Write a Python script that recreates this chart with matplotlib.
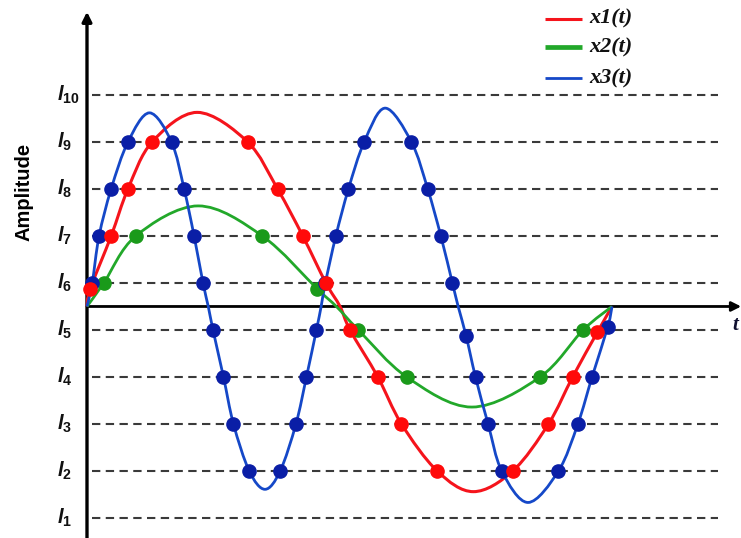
import numpy as np
import matplotlib.pyplot as plt
from matplotlib.path import Path
from matplotlib.patches import PathPatch

plt.rcParams['mathtext.fontset'] = 'custom'
plt.rcParams['mathtext.it'] = 'Liberation Sans:italic:bold'
plt.rcParams['mathtext.rm'] = 'Liberation Sans:bold'

# quantisation levels l1..l10
levels = [-4.5, -3.5, -2.5, -1.5, -0.5, 0.5, 1.5, 2.5, 3.5, 4.5]
level_names = ['1', '2', '3', '4', '5', '6', '7', '8', '9', '10']

# x1(t): points on the curve, mark = 1 where a sample dot sits
x1_t = [0, 0.06, 0.46, 0.78, 1.24, 2.10, 3.06, 3.63, 4.11, 4.55, 4.82, 5.01, 5.54, 5.99,
        6.67, 7.36, 8.11, 8.79, 9.25, 9.72, 10]
x1_y = [0, 0.37, 1.5, 2.5, 3.5, 4.13, 3.5, 2.5, 1.5, 0.5, 0, -0.5, -1.5, -2.5,
        -3.5, -3.94, -3.5, -2.5, -1.5, -0.55, 0]
x1_mark = [0, 1, 1, 1, 1, 0, 1, 1, 1, 1, 0, 1, 1, 1, 1, 0, 1, 1, 1, 1, 0]

# x2(t)
x2_t = [0, 0.32, 0.93, 2.12, 3.34, 4.39, 4.75, 5.17, 6.09, 7.33, 8.63, 9.45, 10]
x2_y = [0, 0.5, 1.5, 2.14, 1.5, 0.37, 0, -0.5, -1.5, -2.14, -1.5, -0.5, 0]
x2_mark = [0, 1, 1, 0, 1, 1, 0, 1, 1, 0, 1, 1, 0]

# x3(t)
x3_t = [0, 0.10, 0.23, 0.46, 0.78, 1.19, 1.61, 1.85, 2.04, 2.21, 2.31, 2.40, 2.60, 2.79,
        3.09, 3.39, 3.68, 3.98, 4.18, 4.37, 4.46, 4.54, 4.74, 4.98, 5.28, 5.68, 6.18,
        6.49, 6.74, 6.96, 7.07, 7.22, 7.40, 7.64, 7.90, 8.40, 8.98, 9.35, 9.62, 9.92, 10]
x3_y = [0, 0.5, 1.5, 2.5, 3.5, 4.12, 3.5, 2.5, 1.5, 0.5, 0, -0.5, -1.5, -2.5,
        -3.5, -3.89, -3.5, -2.5, -1.5, -0.5, 0, 0.5, 1.5, 2.5, 3.5, 4.22, 3.5,
        2.5, 1.5, 0.5, 0, -0.62, -1.5, -2.5, -3.5, -4.17, -3.5, -2.5, -1.5, -0.43, 0]
x3_mark = [0, 1, 1, 1, 1, 0, 1, 1, 1, 1, 0, 1, 1, 1,
           1, 0, 1, 1, 1, 1, 0, 1, 1, 1, 1, 0, 1,
           1, 1, 1, 0, 1, 1, 1, 1, 0, 1, 1, 1, 1, 0]

series = [
    ('x1(t)', x1_t, x1_y, x1_mark, '#f5141c', '#ff0a0a', 2.2, 2.2),
    ('x2(t)', x2_t, x2_y, x2_mark, '#22a82a', '#1a9a1a', 2.0, 3.4),
    ('x3(t)', x3_t, x3_y, x3_mark, '#1548c8', '#0a1ea6', 2.0, 2.0),
]


def smooth_path(t, y):
    # smoothed line through the points (Catmull-Rom as cubic Bezier)
    p = np.column_stack([t, y]).astype(float)
    p = np.vstack([p[:1], p, p[-1:]])
    verts = [p[1]]
    codes = [Path.MOVETO]
    for i in range(1, len(p) - 2):
        c1 = p[i] + (p[i + 1] - p[i - 1]) / 6
        c2 = p[i + 1] - (p[i + 2] - p[i]) / 6
        verts += [c1, c2, p[i + 1]]
        codes += [Path.CURVE4] * 3
    return Path(verts, codes)


fig = plt.figure(figsize=(7.41, 5.38), dpi=100)
ax = fig.add_axes([0, 0, 1, 1])
ax.set_xlim(-1.657, 12.457)
ax.set_ylim(-4.926, 6.521)
ax.axis('off')

# dashed level lines and their labels
for lv, name in zip(levels, level_names):
    ax.plot([0.1, 12.02], [lv, lv], color='#3a3a3a', lw=1.5, ls=(0, (4, 2.6)), zorder=1)
    ax.text(-0.58, lv, r'$\mathit{l_{%s}}$' % name, fontsize=14.5, color='#111111',
            ha='left', va='center')

# axes with arrows
ax.annotate('', xy=(0, 6.27), xytext=(0, -4.93),
            arrowprops=dict(arrowstyle='-|>', lw=2.4, color='black', mutation_scale=14,
                            shrinkA=0, shrinkB=0), zorder=3)
ax.annotate('', xy=(12.46, 0), xytext=(0, 0),
            arrowprops=dict(arrowstyle='-|>', lw=2.0, color='black', mutation_scale=14,
                            shrinkA=0, shrinkB=0), zorder=3)
ax.text(12.29, -0.40, 't', fontsize=15, family='Liberation Serif', weight='bold',
        style='italic', color='#101030', ha='left', va='center')
ax.text(-1.2, 2.43, 'Amplitude', fontsize=14.5, family='Liberation Sans', weight='bold',
        rotation=90, ha='center', va='center')

# curves
for name, t, y, mark, lc, dc, lw, lw_leg in series:
    ax.add_patch(PathPatch(smooth_path(t, y), fill=False, edgecolor=lc, lw=lw, zorder=4))

dot_z = {'x1(t)': 7, 'x2(t)': 5, 'x3(t)': 6}
for name, t, y, mark, lc, dc, lw, lw_leg in series:
    td = [a for a, m in zip(t, mark) if m]
    yd = [b for b, m in zip(y, mark) if m]
    ax.plot(td, yd, 'o', ms=9.5, color=dc, mec=dc, zorder=dot_z[name])

# legend
leg_y = [6.12, 5.52, 4.86]
for (name, t, y, mark, lc, dc, lw, lw_leg), ly in zip(series, leg_y):
    ax.plot([8.72, 9.43], [ly, ly], color=lc, lw=lw_leg, solid_capstyle='butt')
    ax.text(9.56, ly, name, fontsize=16, family='Liberation Serif', weight='bold',
            style='italic', color='#111111', ha='left', va='center')

fig.savefig('out.png', dpi=100)
